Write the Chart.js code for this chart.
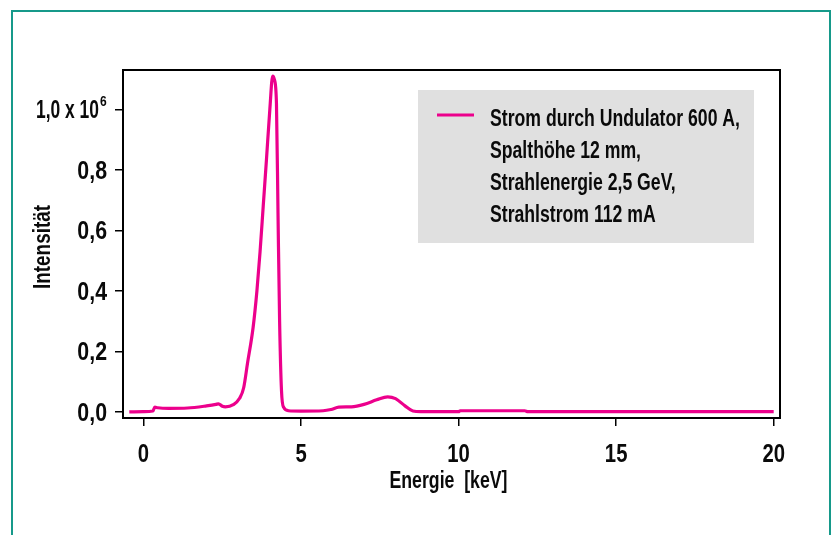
<!DOCTYPE html>
<html>
<head>
<meta charset="utf-8">
<script src="https://cdn.jsdelivr.net/npm/chart.js@4"></script>
<style>
  html, body { margin:0; padding:0; background:#fff; overflow:hidden; }
  #frame { position:absolute; left:11px; top:10px; width:820px; height:600px; border:2px solid #16998a; box-sizing:border-box; }
  #wrap { position:absolute; left:0; top:0; width:834px; height:535px; }
</style>
</head>
<body>
<div id="frame"></div>
<div id="wrap"><canvas id="c" width="834" height="535"></canvas></div>
<script>
// Spectrum (energy in keV, intensity in 10^6)
const energy = [-0.45, 0.0, 0.30, 0.36, 0.45, 0.8, 1.4, 2.0, 2.3, 2.38, 2.5, 2.6, 2.85, 3.05, 3.18, 3.3, 3.48, 3.6, 3.7, 3.8, 3.9, 4.01, 4.1, 4.15, 4.22, 4.27, 4.32, 4.38, 4.45, 4.6, 5.0, 5.7, 5.95, 6.2, 6.6, 7.0, 7.4, 7.75, 8.0, 8.3, 8.55, 8.8, 10.0, 10.05, 12.1, 12.2, 20.0];
const intensity = [0.000, 0.001, 0.003, 0.016, 0.014, 0.012, 0.013, 0.020, 0.025, 0.027, 0.019, 0.017, 0.024, 0.045, 0.08, 0.16, 0.28, 0.40, 0.53, 0.68, 0.83, 1.00, 1.11, 1.10, 1.02, 0.65, 0.30, 0.07, 0.015, 0.004, 0.003, 0.004, 0.008, 0.016, 0.017, 0.025, 0.040, 0.050, 0.044, 0.020, 0.003, 0.001, 0.001, 0.004, 0.004, 0.001, 0.001];

const xTicks = [0, 5, 10, 15, 20];
const xTickLabels = ['0', '5', '10', '15', '20'];
const yTicks = [0, 0.2, 0.4, 0.6, 0.8, 1.0];
const yTickLabels = ['0,0', '0,2', '0,4', '0,6', '0,8', '1,0 x 10'];
const yTopExponent = '6';
const legendLines = ['Strom durch Undulator 600 A,', 'Spalthöhe 12 mm,', 'Strahlenergie 2,5 GeV,', 'Strahlstrom 112 mA'];

const FONT = "'Liberation Sans', Arial, sans-serif";
const PINK = '#ec008c';
const INK = '#0a0a0a';

// condensed bold text: squeeze horizontally, either by factor or to a target width
function condText(ctx, text, x, y, size, opts) {
  ctx.save();
  ctx.font = 'bold ' + size + 'px ' + FONT;
  ctx.fillStyle = INK;
  ctx.textAlign = opts.align || 'left';
  ctx.textBaseline = opts.baseline || 'alphabetic';
  const sx = opts.width ? opts.width / ctx.measureText(text).width : (opts.sx || 0.8);
  ctx.translate(x, y);
  if (opts.rotate) ctx.rotate(opts.rotate);
  ctx.scale(sx, 1);
  ctx.fillText(text, 0, 0);
  ctx.restore();
}

const labelsPlugin = {
  id: 'labels',
  beforeDatasetsDraw(chart) {
    const a = chart.chartArea, ctx = chart.ctx;
    // grey legend panel
    const bx = a.left + 295, by = a.top + 20, bw = 336, bh = 153;
    ctx.save();
    ctx.fillStyle = '#e0e0e0';
    ctx.fillRect(bx, by, bw, bh);
    ctx.strokeStyle = PINK;
    ctx.lineWidth = 3;
    ctx.beginPath();
    ctx.moveTo(bx + 19, by + 25);
    ctx.lineTo(bx + 56, by + 25);
    ctx.stroke();
    ctx.restore();
    ctx.save();
    ctx.font = 'bold 23px ' + FONT;
    const sx = 250 / ctx.measureText(legendLines[0]).width;
    ctx.restore();
    legendLines.forEach((t, i) => condText(ctx, t, bx + 72, by + 36 + i * 32, 23, { sx }));
  },
  afterDraw(chart) {
    const a = chart.chartArea, ctx = chart.ctx;
    const xs = chart.scales.x, ys = chart.scales.y;
    ctx.save();
    ctx.strokeStyle = '#000';
    ctx.lineWidth = 2;
    ctx.strokeRect(a.left, a.top, a.right - a.left, a.bottom - a.top);
    ctx.restore();

    xTicks.forEach((v, i) => {
      condText(ctx, xTickLabels[i], xs.getPixelForValue(v), 462, 26, { align: 'center', sx: 0.78 });
    });
    yTicks.forEach((v, i) => {
      const py = ys.getPixelForValue(v);
      if (i === yTicks.length - 1) {
        condText(ctx, yTickLabels[i], 99, py + 9, 26, { align: 'right', width: 63 });
        condText(ctx, yTopExponent, 100, py - 3, 15, { sx: 0.8 });
      } else {
        condText(ctx, yTickLabels[i], 107, py + 9, 26, { align: 'right', sx: 0.82 });
      }
    });
    condText(ctx, 'Energie  [keV]', (a.left + a.right) / 2 - 3, 488, 24, { align: 'center', width: 118 });
    condText(ctx, 'Intensität', 50, (a.top + a.bottom) / 2 + 3, 24, { align: 'center', width: 84, rotate: -Math.PI / 2 });
  }
};

new Chart(document.getElementById('c').getContext('2d'), {
  type: 'line',
  data: {
    datasets: [{
      data: energy.map((e, i) => ({ x: e, y: intensity[i] })),
      borderColor: PINK, borderWidth: 3.2, pointRadius: 0,
      cubicInterpolationMode: 'monotone', fill: false
    }]
  },
  options: {
    responsive: false, animation: false,
    layout: { padding: { top: 70, right: 54, left: 0, bottom: 0 } },
    plugins: { legend: { display: false }, tooltip: { enabled: false } },
    scales: {
      x: {
        type: 'linear', min: -0.65, max: 20.2,
        afterBuildTicks: s => { s.ticks = xTicks.map(v => ({ value: v })); },
        afterFit: s => { s.height = 535 - 418; },
        grid: { drawOnChartArea: false, tickLength: 8, color: '#000', lineWidth: 1.5 },
        border: { display: false },
        ticks: { display: false }
      },
      y: {
        type: 'linear', min: -0.02, max: 1.13,
        afterBuildTicks: s => { s.ticks = yTicks.map(v => ({ value: v })); },
        afterFit: s => { s.width = 123; },
        grid: { drawOnChartArea: false, tickLength: 8, color: '#000', lineWidth: 1.5 },
        border: { display: false },
        ticks: { display: false }
      }
    }
  },
  plugins: [labelsPlugin]
});
</script>
</body>
</html>
